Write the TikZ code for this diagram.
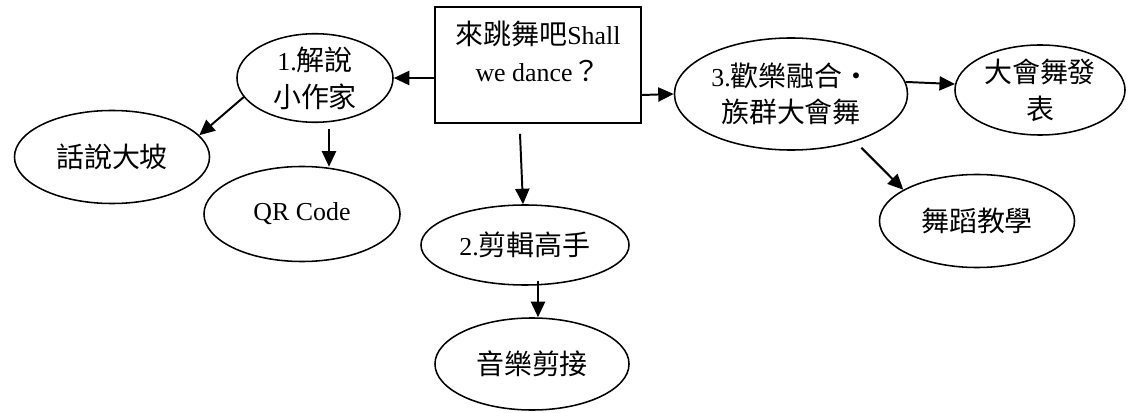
\documentclass[tikz,border=0pt]{standalone}
\usepackage{fontspec}
\setmainfont{Liberation Serif}
\newfontfamily\cjk[Scale=1.08]{Noto Sans CJK TC}
\usepackage{tikz}
\usetikzlibrary{calc, positioning, arrows.meta, shapes.geometric}

\begin{document}
\begin{tikzpicture}[
			x=0.025cm, y=-0.025cm,
			>={Triangle[length=11pt, width=10pt]},
			every node/.style={font=\fontsize{18.4pt}{26.2pt}\selectfont, align=center, inner sep=0pt},
			mybox/.style={draw, line width=1.2pt, rectangle, minimum width=5.15cm, minimum height=2.9cm},
			myoval/.style={draw, line width=1.1pt, ellipse},
			myarrow/.style={->, line width=1.4pt}
		]
		\useasboundingbox (0,0) rectangle (1133,413);

		\node[mybox] (dance) at (538,65) {{\cjk 來跳舞吧}Shall\\we dance{\cjk ？}\rule[-20pt]{0pt}{20pt}};
		\node[myoval, minimum width=3.9cm, minimum height=2.075cm] (explain) at (315,78) {1.{\cjk 解說}\\{\cjk 小作家}};
		\node[myoval, minimum width=4.875cm, minimum height=2.325cm] (dapo) at (112,157) {\cjk 話說大坡};
		\node[myoval, minimum width=4.9cm, minimum height=2.375cm] (qrcode) at (302,214) {QR Code};
		\node[myoval, minimum width=5.2cm, minimum height=2cm] (editing) at (525,245) {2.{\cjk 剪輯高手}};
		\node[myoval, minimum width=4.85cm, minimum height=2.3cm] (music) at (532,364) {\cjk 音樂剪接};
		\node[myoval, minimum width=5.825cm, minimum height=2.8cm] (fusion) at (791,94) {3.{\cjk 歡樂融合・}\\{\cjk 族群大會舞}};
		\node[myoval, minimum width=4.25cm, minimum height=2.25cm] (show) at (1040,90) {{\cjk 大會舞發}\\{\cjk 表}};
		\node[myoval, minimum width=4.875cm, minimum height=2.325cm] (teach) at (977,221) {\cjk 舞蹈教學};

		\draw[myarrow] (dance.west |- explain.east) -- (explain.east);
		\draw[myarrow] (explain.195) -- (dapo.14);
		\draw[myarrow] ($(explain.south)+(14,6)$) -- ($(qrcode.north)+(27,1)$);
		\draw[myarrow] ($(dance.south)+(-18,10)$) -- ($(editing.north)+(-2,0)$);
		\draw[myarrow] ($(editing.south)+(13,-5)$) -- ($(music.north)+(6,0)$);
		\draw[myarrow] ($(dance.east)+(0,30)$) -- (fusion.west);
		\draw[myarrow] (fusion.6) -- (show.176);
		\draw[myarrow] ($(fusion.-37)+(7,6)$) -- (teach.157);
	\end{tikzpicture}
\end{document}
